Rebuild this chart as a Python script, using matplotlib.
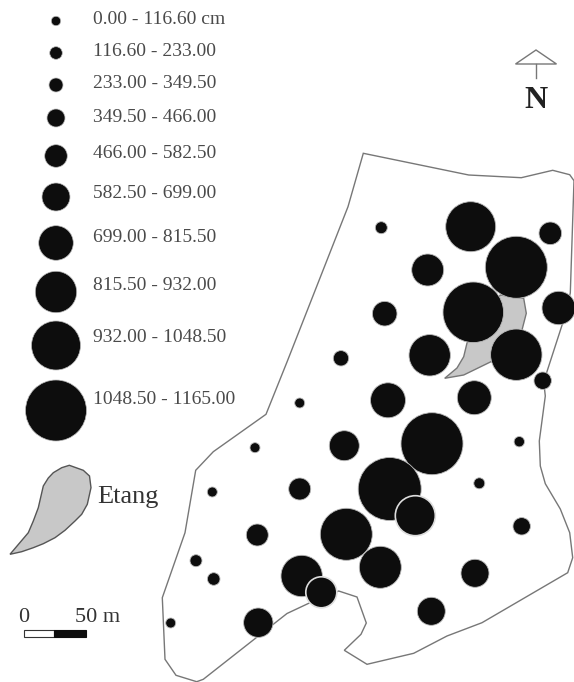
import matplotlib
matplotlib.use('Agg')
import matplotlib.pyplot as plt
from matplotlib.patches import Circle, Polygon, Rectangle

plt.rcParams['font.family'] = ['Liberation Serif', 'DejaVu Serif']

# Legend classes (cm), y position and circle radius
class_labels = ['0.00 - 116.60 cm', '116.60 - 233.00', '233.00 - 349.50', '349.50 - 466.00',
                '466.00 - 582.50', '582.50 - 699.00', '699.00 - 815.50', '815.50 - 932.00',
                '932.00 - 1048.50', '1048.50 - 1165.00']
class_y = [21, 53, 85, 118, 156, 197, 243, 292, 345.5, 410.5]
class_label_y = [19, 52, 84, 117, 153, 193, 237, 286, 337, 400]
class_r = [4.7, 6.3, 7, 9, 11.3, 14, 17.3, 20.7, 24.5, 30.5]

# Sampled points on the map (image pixels)
site_x = [470.7, 550.3, 381.3, 516.3, 427.7, 384.7, 473.3, 558.7, 341, 429.7, 516.3, 542.7,
          299.7, 388, 474.3, 519.3, 344.3, 432, 299.7, 389.7, 479.3, 521.7, 346.3, 380.3,
          301.7, 475, 431.3, 255, 212.3, 257.3, 196, 213.7, 170.7, 258.3]
site_y = [226.7, 233.3, 227.7, 267.3, 270, 313.7, 312.3, 308, 358.3, 355.3, 354.7, 380.7,
          403, 400.3, 397.7, 441.7, 445.7, 443.7, 489, 489, 483.3, 526.3, 534.3, 567.3,
          576, 573.3, 611.3, 447.7, 492, 535, 560.7, 579, 623, 622.7]
site_r = [25, 11.3, 6, 31, 16, 12.3, 30.3, 16.7, 7.7, 20.7, 25.7, 8.7,
          5, 17.5, 17, 5.2, 15, 31, 11, 31.5, 5.5, 8.7, 26, 21,
          20.7, 14, 14, 5, 5, 11, 6, 6.3, 5, 14.7]

# These two sit on top of their neighbours with a pale outline
top_x = [415.3, 321.3]
top_y = [515.7, 592.3]
top_r = [20, 15.5]

boundary_x = [363.3, 468.7, 521.3, 552.7, 569.7, 574, 570.3, 563.7, 543.7, 545.3, 539.3, 540.3,
              545.3, 560.3, 569.7, 572.7, 567.7, 482, 447, 413.7, 367, 344.3, 361, 366.3, 357,
              338.7, 308.7, 287, 203.3, 196.7, 176, 165, 162.3, 185, 195.7, 213.3, 266, 287, 348]
boundary_y = [153.3, 175, 177.7, 170.3, 174.7, 180.7, 293, 320, 381.7, 396, 441, 466,
              483.7, 509, 532.7, 557.7, 572.7, 622.7, 636, 653.3, 664.3, 650.3, 634.3, 623, 597,
              591, 603.3, 613.5, 679.3, 681.7, 675.3, 659.3, 597.7, 532.7, 470.3, 451.7, 414.3, 362, 206.7]

pond_x = [444.7, 457, 463.7, 467, 500.3, 523.7, 526.3, 522, 491, 463.7]
pond_y = [378.3, 368, 356.7, 343, 295, 298.3, 313.3, 330, 361.7, 375]

key_pond_x = [10, 28.3, 33.3, 38.3, 43.3, 48.3, 53.3, 61.7, 69.3, 83.3, 89.5, 91, 87.3, 81.7,
              75, 65, 55, 43.3, 33.3, 21.7]
key_pond_y = [554.3, 532.7, 521, 507.7, 486, 478, 472.7, 467.7, 465.3, 470.3, 476, 487.7, 504.3, 514.3,
              521, 530.3, 537.7, 543.7, 547.7, 551.7]

dark = '#0d0d0d'
line = '#777777'
text_col = '#4a4a4a'

fig = plt.figure(figsize=(5.74, 6.82), dpi=100)
ax = fig.add_axes([0, 0, 1, 1])
ax.set_xlim(0, 574)
ax.set_ylim(682, 0)
ax.axis('off')

# Map
ax.add_patch(Polygon(list(zip(boundary_x, boundary_y)), closed=True, fill=False, edgecolor=line, linewidth=1))
ax.add_patch(Polygon(list(zip(pond_x, pond_y)), closed=True, facecolor='#c8c8c8', edgecolor=line, linewidth=1))
for x, y, r in zip(site_x, site_y, site_r):
    ax.add_patch(Circle((x, y), r, facecolor=dark, edgecolor='#bbbbbb', linewidth=0.6))
for x, y, r in zip(top_x, top_y, top_r):
    ax.add_patch(Circle((x, y), r, facecolor=dark, edgecolor='#dddddd', linewidth=1.2, zorder=3))

# Size legend
for y, ly, r, lab in zip(class_y, class_label_y, class_r, class_labels):
    ax.add_patch(Circle((56, y), r, facecolor=dark, edgecolor='#bbbbbb', linewidth=0.5))
    ax.text(93, ly, lab, fontsize=14, color=text_col, va='center', ha='left')

# Pond key
ax.add_patch(Polygon(list(zip(key_pond_x, key_pond_y)), closed=True, facecolor='#c8c8c8', edgecolor='#555555', linewidth=1))
ax.text(97, 497, 'Etang', fontsize=19, color='#333333', va='center', ha='left')

# Scale bar
ax.add_patch(Rectangle((24, 630.3), 30.3, 6.7, facecolor='white', edgecolor='#333333', linewidth=0.8))
ax.add_patch(Rectangle((54.3, 630.3), 31.7, 6.7, facecolor=dark, edgecolor=dark, linewidth=0.8))
ax.text(24, 617, '0', fontsize=16, color='#333333', va='center', ha='center')
ax.text(75, 617, '50 m', fontsize=16, color='#333333', va='center', ha='left')

# North arrow
ax.add_patch(Polygon([(536, 50), (515.5, 64), (556.5, 64)], closed=True, facecolor='white', edgecolor=line, linewidth=1))
ax.plot([536, 536], [64, 78], color=line, linewidth=1)
ax.text(536, 100, 'N', fontsize=23, fontweight='bold', color='#222222', va='center', ha='center')

fig.savefig('out.png', dpi=100)
